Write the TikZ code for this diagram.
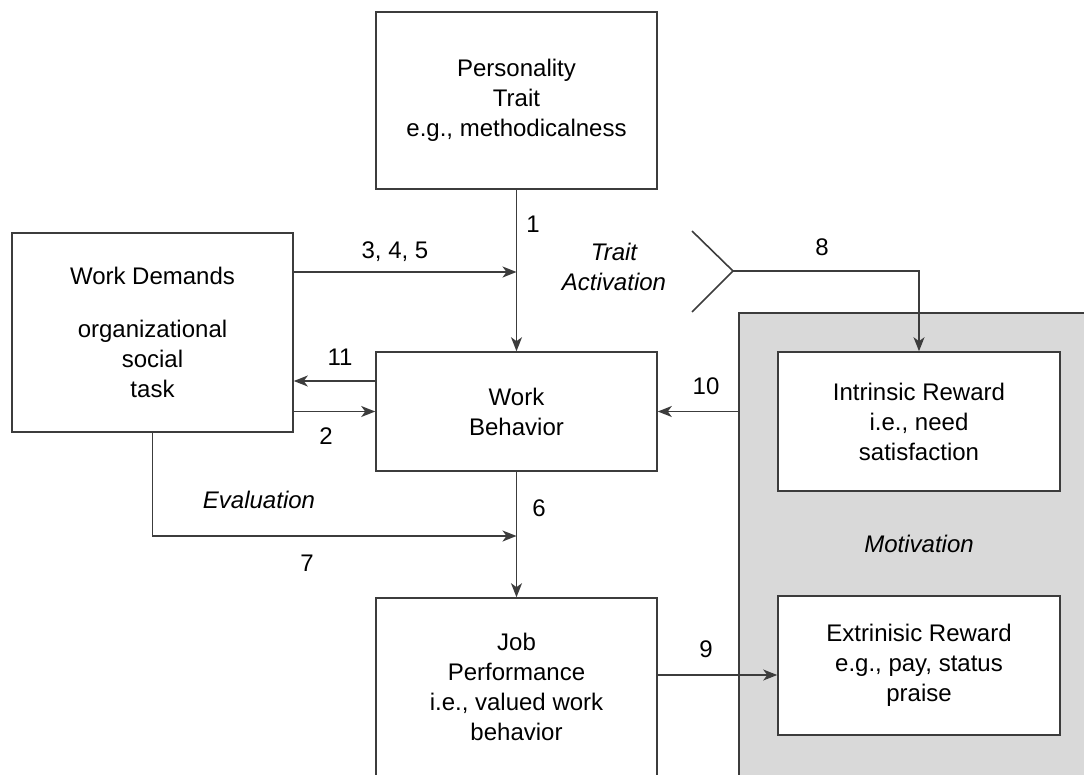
\documentclass[tikz,border=0pt]{standalone}
\usepackage{fontspec}
\setmainfont{Liberation Sans}
\usetikzlibrary{arrows.meta}
\definecolor{linegray}{HTML}{3C3C3C}
\definecolor{motgray}{HTML}{D9D9D9}

\begin{document}
\begin{tikzpicture}[x=1pt,y=-1pt,
    box/.style={draw=linegray, line width=1.6pt, fill=white, minimum width=281pt, align=center, font=\fontsize{24}{30}\selectfont},
    lbl/.style={font=\fontsize{24}{30}\selectfont},
    ital/.style={font=\fontsize{24}{30}\selectfont\itshape, align=center},
    ln/.style={draw=linegray, line width=1.6pt},
    arr/.style={ln, -{Stealth[length=14pt,width=11pt,inset=4pt]}}]
    \useasboundingbox (0,0) rectangle (1084,774);

    % Motivation area
    \node[ln, fill=motgray, minimum width=370pt, minimum height=480pt, anchor=north west, inner sep=0pt] (motiv) at (738,312) {};
    \node[ital] (motlbl) at (919,544) {Motivation};

    \node[box, minimum height=177pt] (trait) at (516.5,100.5) {Personality\\Trait\\e.g., methodicalness};
    \node[box, minimum height=199pt] (demands) at (152.5,332.5) {Work Demands\\[23pt]organizational\\social\\task};
    \node[box, minimum height=119pt] (behavior) at (516.5,411.5) {Work\\Behavior};
    \node[box, minimum height=178pt] (perf) at (516.5,687) {Job\\Performance\\i.e., valued work\\behavior};
    \node[box, minimum width=282pt, minimum height=139pt] (intrinsic) at (919,421.5) {Intrinsic Reward\\i.e., need\\satisfaction};
    \node[box, minimum width=282pt, minimum height=139pt] (extrinsic) at (919,665.5) {Extrinisic Reward\\e.g., pay, status\\praise};

    % helper points
    \coordinate (j345) at (516.5,272);
    \coordinate (j7) at (516.5,536);
    \coordinate (in11) at ([yshift=30.5pt]behavior.west);
    \coordinate (in9) at ([yshift=-9.5pt]extrinsic.west);
    \coordinate (tip8) at (733,271);

    % connectors
    \draw[arr] (trait.south) -- (behavior.north);
    \draw[arr] (demands.east |- j345) -- (j345);
    \draw[arr] (in11) -- (demands.east |- in11);
    \draw[arr] (demands.east |- behavior.west) -- (behavior.west);
    \draw[arr] (motiv.west |- behavior.east) -- (behavior.east);
    \draw[arr] (behavior.south) -- (perf.north);
    \draw[arr] (demands.south) -- (demands.south |- j7) -- (j7);
    \draw[arr] (perf.east |- in9) -- (in9);
    \draw[ln] (692,231) -- (tip8) -- (692,312); % chevron
    \draw[arr] (tip8) -| (intrinsic.north);

    % labels
    \node[lbl] (l1) at (533,224) {1};
    \node[lbl] (l345) at (395,252) {3, 4, 5};
    \node[ital] (act) at (614,267) {Trait\\Activation};
    \node[lbl] (l8) at (822,247) {8};
    \node[lbl] (l11) at (340,357) {11};
    \node[lbl] (l10) at (706,386) {10};
    \node[lbl] (l2) at (326,436) {2};
    \node[ital] (eval) at (259,500) {Evaluation};
    \node[lbl] (l6) at (539,508) {6};
    \node[lbl] (l7) at (307,563) {7};
    \node[lbl] (l9) at (706,649) {9};
\end{tikzpicture}
\end{document}
